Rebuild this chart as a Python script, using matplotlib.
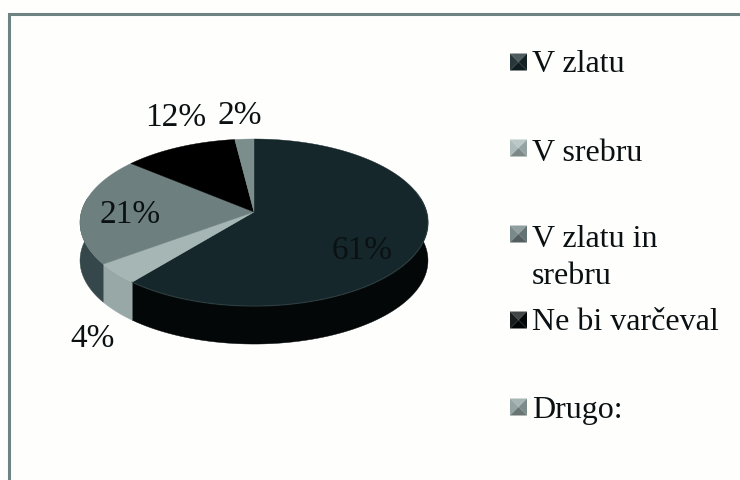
import matplotlib
matplotlib.use("Agg")
import matplotlib.pyplot as plt
import numpy as np

# --- Data ---
categories = ["V zlatu", "V srebru", "V zlatu in\nsrebru", "Ne bi varčeval", "Drugo:"]
values = [61, 4, 21, 12, 2]
value_labels = ["61%", "4%", "21%", "12%", "2%"]

# --- Style ---
TOP_COLORS = ["#15272b", "#a6b6b4", "#6e7f7f", "#000000", "#7c8e8c"]
SIDE_COLORS = ["#030708", "#98a8a6", "#35474a", "#000000", "#56686a"]
KEY_COLORS = ["#14262a", "#a6b6b4", "#6e7f7f", "#040808", "#8a9c9a"]
FRAME_COLOR = "#6f8482"

LABEL_POS = [(362, 251), (93, 339), (130, 215), (176, 118), (240, 116)]
KEY_Y = [63, 149, 235, 321, 408]
TEXT_Y = [65, 154, 258, 323, 411]

# pie geometry in pixels, with a little perspective
CX, CY = 254, 213
RX, RY = 172.6, 82.2
PERSP = 0.126
DEPTH = 38

plt.rcParams['font.family'] = ['Liberation Serif', 'DejaVu Serif']


def rim(theta_deg):
    """Point on the pie rim, angle clockwise from the top."""
    t = np.radians(theta_deg)
    w = 1 + PERSP * np.cos(t)
    return CX + RX * np.sin(t) / w, CY - RY * np.cos(t) / w


def shade(color, factor):
    r, g, b = matplotlib.colors.to_rgb(color)
    if factor >= 1:
        return (r + (1 - r) * (factor - 1), g + (1 - g) * (factor - 1), b + (1 - b) * (factor - 1))
    return (r * factor, g * factor, b * factor)


def draw_key(ax, x0, yc, color, size=17):
    # bevelled legend square
    x1, y0, y1 = x0 + size, yc - size / 2, yc + size / 2
    xm = x0 + size / 2
    ax.fill([x0, x1, xm], [y0, y0, yc], color=shade(color, 1.25), lw=0)
    ax.fill([x0, xm, x0], [y0, yc, y1], color=shade(color, 1.08), lw=0)
    ax.fill([x1, xm, x1], [y0, yc, y1], color=shade(color, 0.9), lw=0)
    ax.fill([x0, x1, xm], [y1, y1, yc], color=shade(color, 0.75), lw=0)


fig = plt.figure(figsize=(7.4, 4.81), dpi=100)
ax = fig.add_axes([0, 0, 1, 1])
ax.set_xlim(0, 740)
ax.set_ylim(481, 0)
ax.axis('off')

# outer frame (runs off the right and bottom of the crop)
ax.plot([9, 9, 740], [481, 15, 15], color=FRAME_COLOR, lw=2.2, solid_joinstyle='miter')

edges = np.concatenate([[0], np.cumsum(values)]) / np.sum(values) * 360

# side wall first, only the part facing the viewer
for i in range(len(values)):
    start, end = max(edges[i], 80), min(edges[i + 1], 280)
    if end <= start:
        continue
    x, y = rim(np.linspace(start, end, 80))
    ax.fill(np.concatenate([x, x[::-1]]), np.concatenate([y, y[::-1] + DEPTH]),
            color=SIDE_COLORS[i], lw=0.3)

# top face
for i in range(len(values)):
    x, y = rim(np.linspace(edges[i], edges[i + 1], 120))
    ax.fill(np.concatenate([[CX], x]), np.concatenate([[CY], y]),
            color=TOP_COLORS[i], lw=0.3)

# soft bevel on the rim of the big slice
x, y = rim(np.linspace(75, edges[1], 120))
ax.plot(x, y, color="#3a4a4c", lw=1.0, alpha=0.45)

for pos, label in zip(LABEL_POS, value_labels):
    ax.text(pos[0], pos[1], label, fontsize=24, color="#0b1113", ha='center', va='center')

# legend
for cat, color, ky, ty in zip(categories, KEY_COLORS, KEY_Y, TEXT_Y):
    draw_key(ax, 510, ky, color)
    ax.text(532, ty, cat, fontsize=23, color="#0b1113", ha='left', va='center', linespacing=1.32)

fig.savefig("out.png", dpi=100, facecolor="#fefefd")
